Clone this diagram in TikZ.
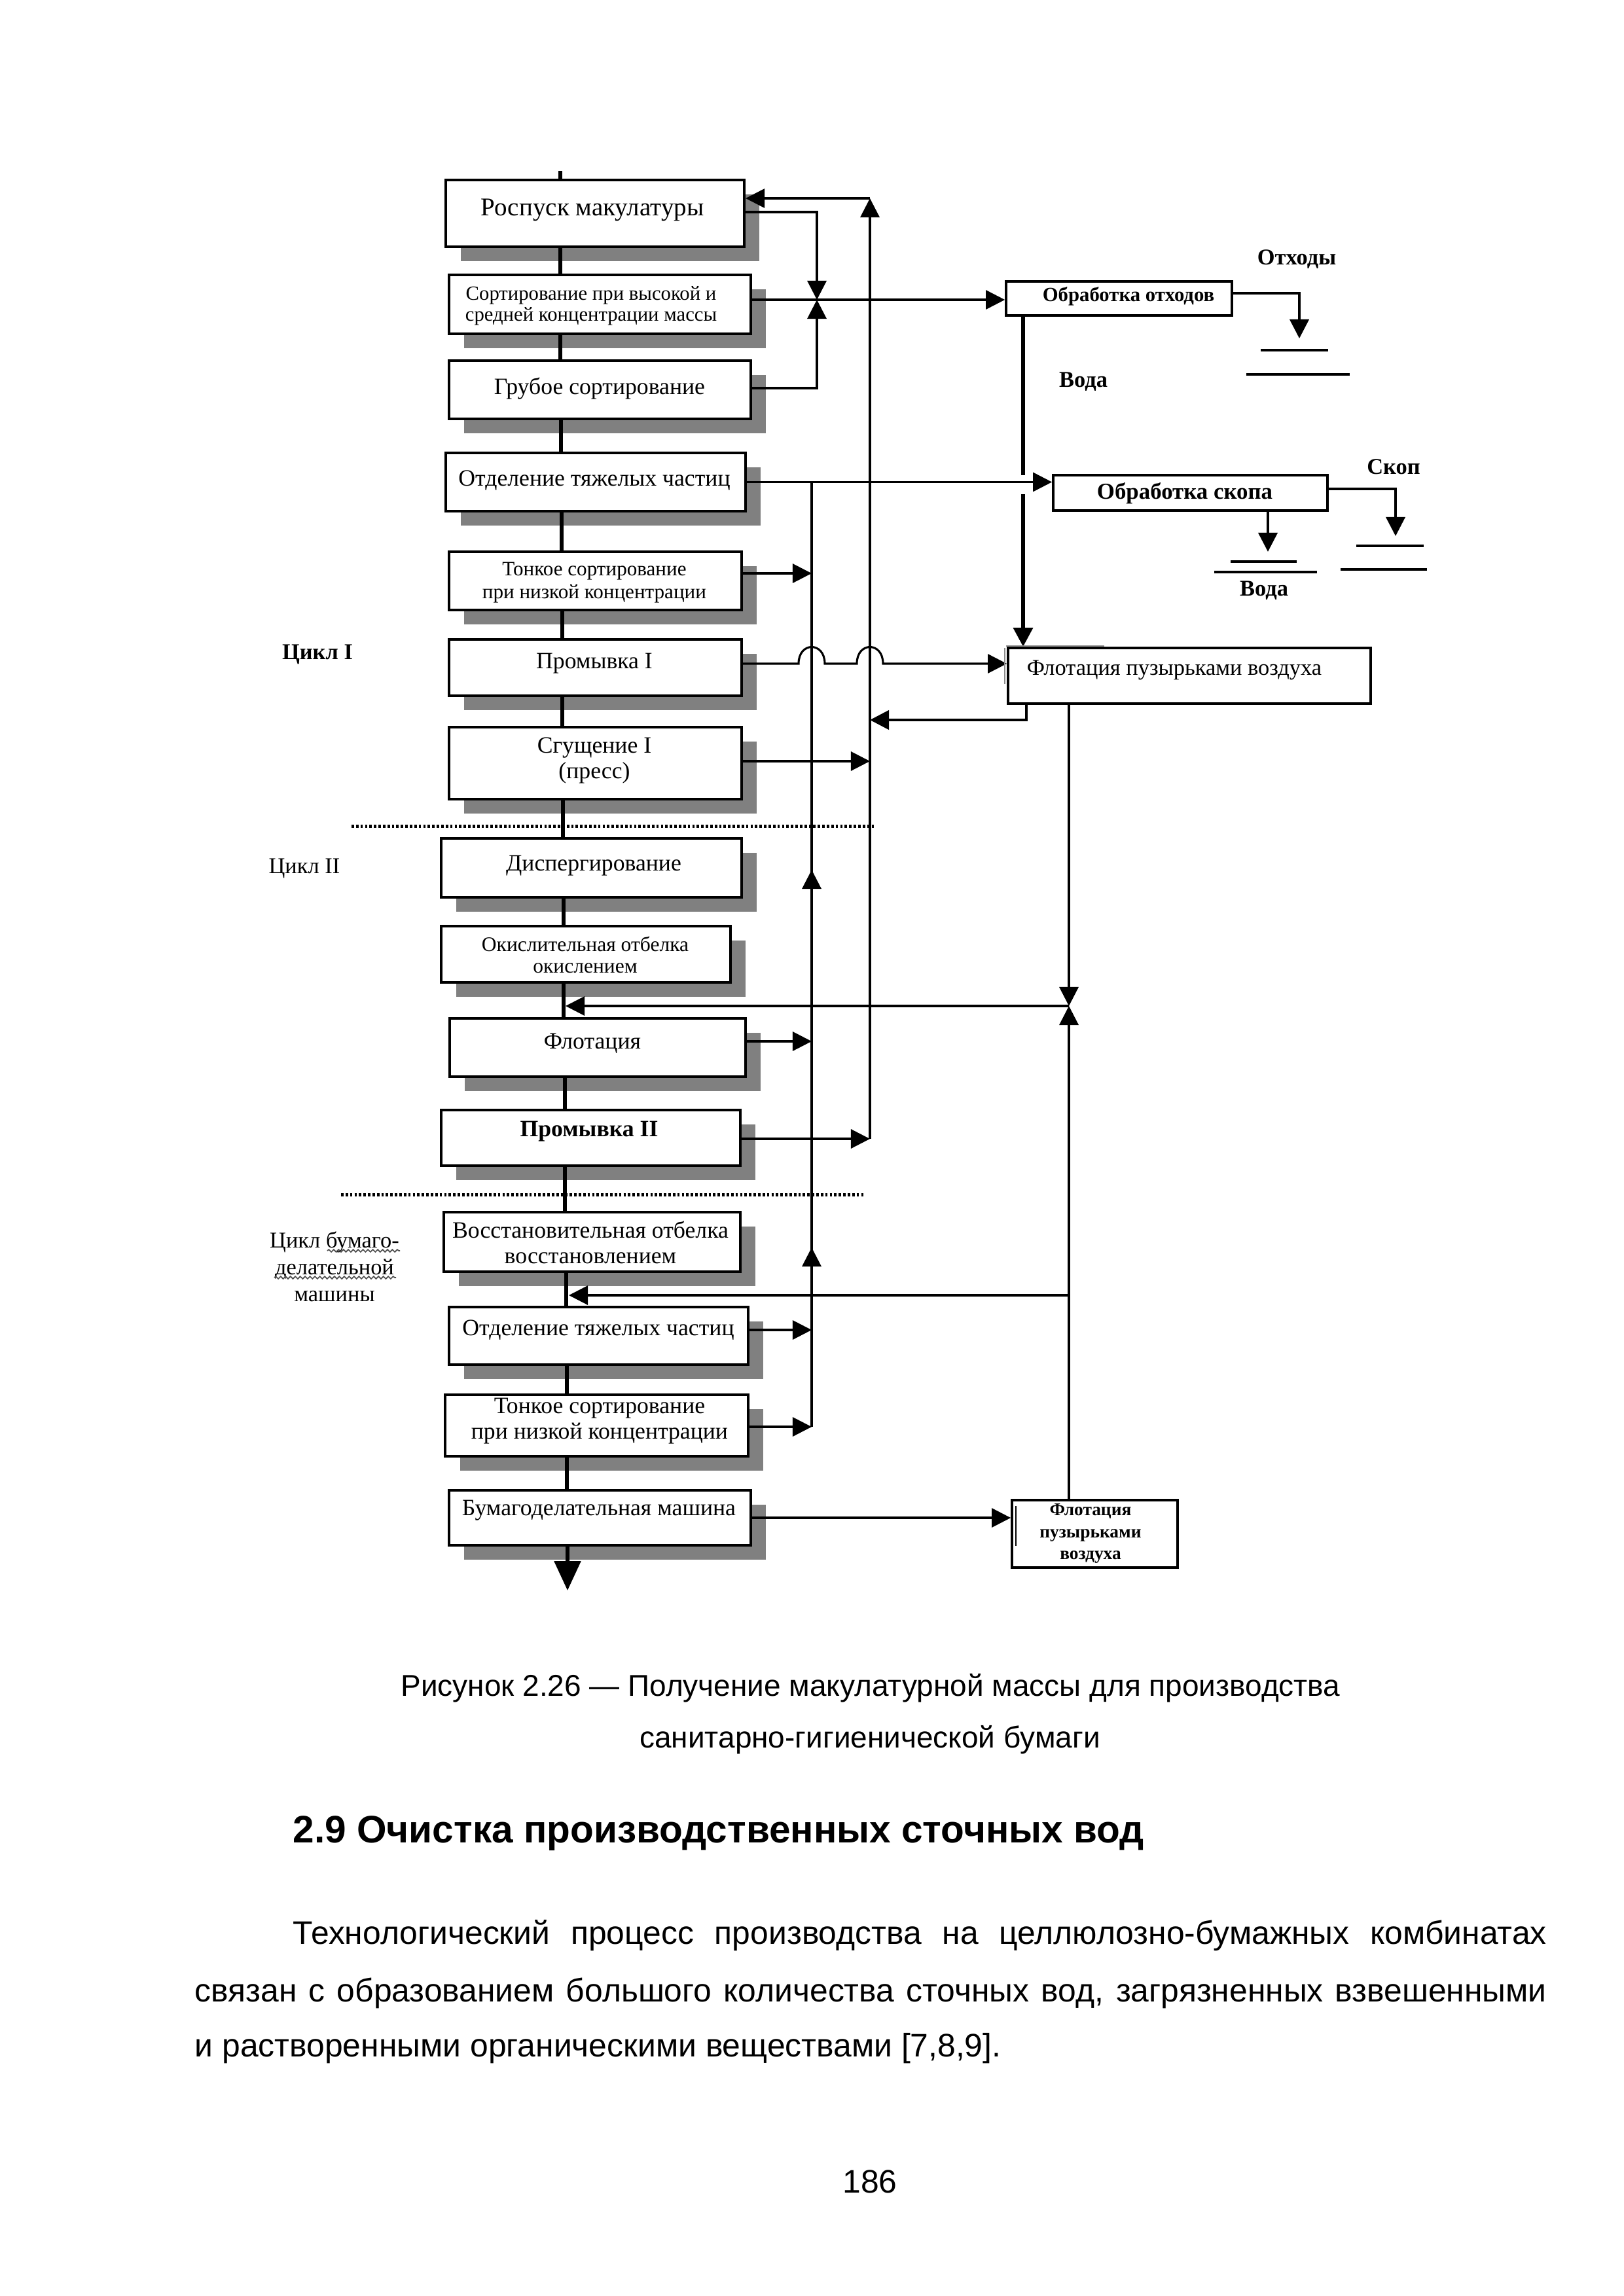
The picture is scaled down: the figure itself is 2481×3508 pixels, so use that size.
\documentclass[tikz,border=0pt]{standalone}
\usepackage{fontspec}
\setmainfont{Liberation Serif}
\newfontfamily\sansf{Liberation Sans}
\usetikzlibrary{arrows.meta,shadows,decorations.pathmorphing}
\definecolor{shgray}{RGB}{128,128,128}
\tikzset{
  pbox/.style={draw, line width=1pt, fill=white, inner sep=0pt,
     drop shadow={shadow xshift=5.5pt, shadow yshift=-5.3pt, fill=shgray, opacity=1}},
  rbox/.style={draw, line width=0.9pt, fill=white, inner sep=0pt},
  btxt/.style={font=\fontsize{8.6}{9.4}\selectfont, align=center, inner sep=0pt},
  lbl/.style={font=\fontsize{8.3}{10}\selectfont\bfseries, inner sep=0pt},
  col/.style={line width=1.4pt},
  ln/.style={line width=0.75pt},
  tip/.style={-{Triangle[length=7pt,width=7pt]}},
  arr/.style={ln, tip},
  dotl/.style={line width=1.2pt, dash pattern=on 0.9pt off 0.75pt},
  gnd/.style={line width=0.9pt},
  body/.style={font=\sansf\fontsize{12.0}{14}\selectfont, inner sep=0pt},
  capt/.style={font=\sansf\fontsize{11.07}{13}\selectfont, inner sep=0pt}
}
\begin{document}
\begin{tikzpicture}[x=0.2409pt,y=-0.2409pt]
\useasboundingbox (0,0) rectangle (2481,3508);
\fill[white] (0,0) rectangle (2481,3508);

% ---------- main column boxes ----------
\node[pbox, minimum width=109.85pt, minimum height=24.57pt] (b1) at (909,326) {};
\node[pbox, minimum width=111.05pt, minimum height=21.68pt] (b2) at (916.5,465) {};
\node[pbox, minimum width=111.05pt, minimum height=21.44pt] (b3) at (916.5,595.5) {};
\node[pbox, minimum width=110.33pt, minimum height=21.44pt] (b4) at (910,736.5) {};
\node[pbox, minimum width=107.68pt, minimum height=21.44pt] (b5) at (909.5,887.5) {};
\node[pbox, minimum width=107.68pt, minimum height=20.72pt] (b6) at (909.5,1020) {};
\node[pbox, minimum width=107.68pt, minimum height=26.50pt] (b7) at (909.5,1166) {};
\node[pbox, minimum width=110.57pt, minimum height=21.68pt] (b8) at (903.5,1326) {};
\node[pbox, minimum width=106.48pt, minimum height=20.72pt] (b9) at (895,1458) {};
\node[pbox, minimum width=108.89pt, minimum height=21.44pt] (b10) at (913,1600.5) {};
\node[pbox, minimum width=110.09pt, minimum height=20.48pt] (b11) at (902.5,1738.5) {};
\node[pbox, minimum width=109.13pt, minimum height=21.92pt] (b12) at (904.5,1897.5) {};
\node[pbox, minimum width=110.09pt, minimum height=21.20pt] (b13) at (914.5,2041) {};
\node[pbox, minimum width=111.54pt, minimum height=22.64pt] (b14) at (911.5,2178) {};
\node[pbox, minimum width=111.05pt, minimum height=20.24pt] (b15) at (916.5,2319) {};

% ---------- box texts ----------
\node[btxt, font=\fontsize{9.4}{10}\selectfont] (t1) at (905,321) {Роспуск макулатуры};
\node[btxt, font=\fontsize{7.4}{7.6}\selectfont] (t2) at (903,467) {Сортирование при высокой и\\средней концентрации массы};
\node[btxt] (t3) at (916,594) {Грубое сортирование};
\node[btxt] (t4) at (908,734) {Отделение тяжелых частиц};
\node[btxt, font=\fontsize{7.5}{8.4}\selectfont] (t5) at (908,890) {Тонкое сортирование\\при низкой концентрации};
\node[btxt] (t6) at (908,1014) {Промывка I};
\node[btxt] (t7) at (908,1162) {Сгущение I\\(пресс)};
\node[btxt] (t8) at (907,1323) {Диспергирование};
\node[btxt, font=\fontsize{7.6}{8}\selectfont] (t9) at (894,1459) {Окислительная отбелка\\окислением};
\node[btxt] (t10) at (905,1594) {Флотация};
\node[btxt, font=\fontsize{8.6}{9.4}\selectfont\bfseries] (t11) at (900,1729) {Промывка II};
\node[btxt, font=\fontsize{8.6}{9.4}\selectfont] (t12) at (902,1898) {Восстановительная отбелка\\восстановлением};
\node[btxt] (t13) at (914,2032) {Отделение тяжелых частиц};
\node[btxt, font=\fontsize{8.6}{9.2}\selectfont] (t14) at (916,2171) {Тонкое сортирование\\при низкой концентрации};
\node[btxt] (t15) at (915,2308) {Бумагоделательная машина};

% ---------- right boxes ----------
\node[rbox, minimum width=83.11pt, minimum height=12.53pt]  (r1) at (1709.5,456) {};
\node[rbox, minimum width=100.94pt, minimum height=13.01pt] (r2) at (1818.5,753) {};
\node[rbox, minimum width=133.46pt, minimum height=20.48pt] (r3) at (1817,1032.5) {};
\node[rbox, minimum width=60.95pt, minimum height=24.81pt]  (r4) at (1672.5,2343.5) {};
\node[lbl, font=\fontsize{7.4}{9}\selectfont\bfseries] (rt1) at (1724,453) {Обработка отходов};
\node[lbl, font=\fontsize{8.4}{9}\selectfont\bfseries] (rt2) at (1810,754) {Обработка скопа};
\node[btxt, font=\fontsize{8.3}{9}\selectfont] (rt3) at (1794,1024) {Флотация пузырьками воздуха};
\node[lbl, font=\fontsize{6.6}{8}\selectfont\bfseries, align=center] (rt4) at (1666,2343) {Флотация\\пузырьками\\воздуха};

% ---------- outside labels ----------
\node[lbl] (lo) at (1981,396) {Отходы};
\node[lbl] (lv1) at (1655,583) {Вода};
\node[lbl] (ls) at (2129,713) {Скоп};
\node[lbl] (lv2) at (1931,902) {Вода};
\node[btxt, font=\fontsize{8.3}{10}\selectfont\bfseries] (c1) at (485,1000) {Цикл I};
\node[btxt, font=\fontsize{8.3}{10}\selectfont] (c2) at (465,1327) {Цикл II};
\node[btxt, font=\fontsize{8.3}{9.9}\selectfont] (c3) at (511,1935) {Цикл бумаго-\\делательной\\машины};
\draw[decorate, decoration={snake, amplitude=0.45pt, segment length=1.8pt}, line width=0.4pt, black!70] (500,1911) -- (611,1911);
\draw[decorate, decoration={snake, amplitude=0.45pt, segment length=1.8pt}, line width=0.4pt, black!70] (419,1952) -- (605,1952);

% ---------- column connectors ----------
\coordinate (top) at (856,261);
\draw[col] (top) -- (top |- b1.north);
\draw[col] (b1.south -| 856,0) -- (b2.north -| 856,0);
\draw[col] (b2.south -| 856,0) -- (b3.north -| 856,0);
\draw[col] (b3.south -| 857,0) -- (b4.north -| 857,0);
\draw[col] (b4.south -| 858,0) -- (b5.north -| 858,0);
\draw[col] (b5.south -| 859,0) -- (b6.north -| 859,0);
\draw[col] (b6.south -| 859,0) -- (b7.north -| 859,0);
\draw[col] (b7.south -| 860,0) -- (b8.north -| 860,0);
\draw[col] (b8.south -| 861,0) -- (b9.north -| 861,0);
\draw[col] (b9.south -| 861,0) -- (b10.north -| 861,0);
\draw[col] (b10.south -| 863,0) -- (b11.north -| 863,0);
\draw[col] (b11.south -| 863,0) -- (b12.north -| 863,0);
\draw[col] (b12.south -| 865,0) -- (b13.north -| 865,0);
\draw[col] (b13.south -| 866,0) -- (b14.north -| 866,0);
\draw[col] (b14.south -| 866,0) -- (b15.north -| 866,0);
\coordinate (out) at (867,2430);
\draw[col, -{Triangle[length=10.8pt,width=9.6pt]}] (b15.south -| out) -- (out);

% ---------- dotted separators ----------
\draw[dotl] (537,1262) -- (1338,1262);
\draw[dotl] (521,1825) -- (1320,1825);

% ---------- upper right connections ----------
\coordinate (jn) at (1248,458);
\draw[arr] (b1.east |- 0,324) -- (1248,324) -- (jn);
\draw[arr] (b3.east |- 0,593) -- (1248,593) -- (jn);
\draw[arr] (b2.east |- 0,458) -- (r1.west |- 0,458);
\draw[arr] (b4.east) -- (b4.east -| r2.west);

% vertical collectors
\coordinate (xAtop) at (1240,737);
\coordinate (xAbot) at (1240,2180);
\coordinate (xBtop) at (1329,303);
\coordinate (xBbot) at (1329,1740);
\draw[ln] (xAbot) -- (xAtop);
\draw[arr] (1240,1370) -- (1240,1329);
\draw[arr] (1240,1945) -- (1240,1906);
\draw[arr] (xBbot) -- (xBtop);
\draw[arr] (xBtop) -- (xBtop -| b1.east);

\draw[arr] (b5.east |- 0,876) -- (xAtop |- 0,876);
\draw[arr] (b10.east |- 0,1591) -- (xAtop |- 0,1591);
\draw[arr] (b13.east |- 0,2032) -- (xAtop |- 0,2032);
\draw[arr] (b14.east |- 0,2180) -- (xAbot);
\draw[arr] (b7.east |- 0,1163) -- (xBtop |- 0,1163);
\draw[arr] (b11.east |- 0,1740) -- (xBbot);

% Промывка I -> flotation with line hops
\draw[arr] (b6.east |- 0,1014) -- (1220,1014)
   .. controls (1220,980) and (1260,980) .. (1260,1014) -- (1309,1014)
   .. controls (1309,980) and (1349,980) .. (1349,1014) -- (r3.west |- 0,1014);

% flotation back to collector
\draw[arr, line width=1.1pt] (r3.south -| 1568,0) -- (1568,1100) -- (xBtop |- 0,1100);

% waste treatment
\draw[line width=1.5pt] (r1.south -| 1563,0) -- (1563,726);
\draw[line width=1.5pt, tip] (1563,755) -- (r3.north -| 1563,0);
\coordinate (g1) at (1985,517);
\draw[arr, line width=0.9pt] (r1.east |- 0,448) -- (1985,448) -- (g1);
\draw[gnd] (1926,535) -- (2029,535);
\draw[gnd] (1904,572) -- (2062,572);

% sludge treatment
\coordinate (g2) at (2132,819);
\draw[arr, line width=0.9pt] (r2.east |- 0,747) -- (2132,747) -- (g2);
\draw[gnd] (2072,834) -- (2175,834);
\draw[gnd] (2048,870) -- (2180,870);
\coordinate (g3) at (1937,843);
\draw[arr, line width=0.9pt] (r2.south -| g3) -- (g3);
\draw[gnd] (1880,858) -- (1981,858);
\draw[gnd] (1855,874) -- (2012,874);

% flotation outputs to column
\coordinate (jn2) at (1633,1537);
\draw[arr] (r3.south -| jn2) -- (jn2);
\draw[arr] (r4.north -| jn2) -- (jn2);
\draw[arr] (jn2) -- (864,1537);
\draw[arr] (jn2 |- 0,1979) -- (869,1979);
\draw[arr] (b15.east) -- (b15.east -| r4.west);

% small artefacts
\draw[black!45, line width=0.4pt] (1535,990) -- (1535,1045);
\draw[black!45, line width=0.5pt] (1537,987) -- (1687,987);
\draw[line width=0.5pt] (1552,2301) -- (1552,2362);

% ---------- caption and text ----------
\node[capt] (cap1) at (1330,2579) {Рисунок 2.26 — Получение макулатурной массы для производства};
\node[capt] (cap2) at (1329,2658) {санитарно-гигиенической бумаги};
\node[body, font=\sansf\fontsize{14.1}{16}\selectfont\bfseries, anchor=west] (head) at (447,2801) {2.9 Очистка производственных сточных вод};
\node[body, anchor=west] (p1) at (447,2957) {\makebox[461.3pt][s]{Технологический процесс производства на целлюлозно-бумажных комбинатах}};
\node[body, anchor=west] (p2) at (297,3045) {\makebox[497.5pt][s]{связан с образованием большого количества сточных вод, загрязненных взвешенными}};
\node[body, anchor=west] (p3) at (297,3130) {и растворенными органическими веществами [7,8,9].};
\node[body] (pg) at (1329,3333) {186};
\end{tikzpicture}
\end{document}
